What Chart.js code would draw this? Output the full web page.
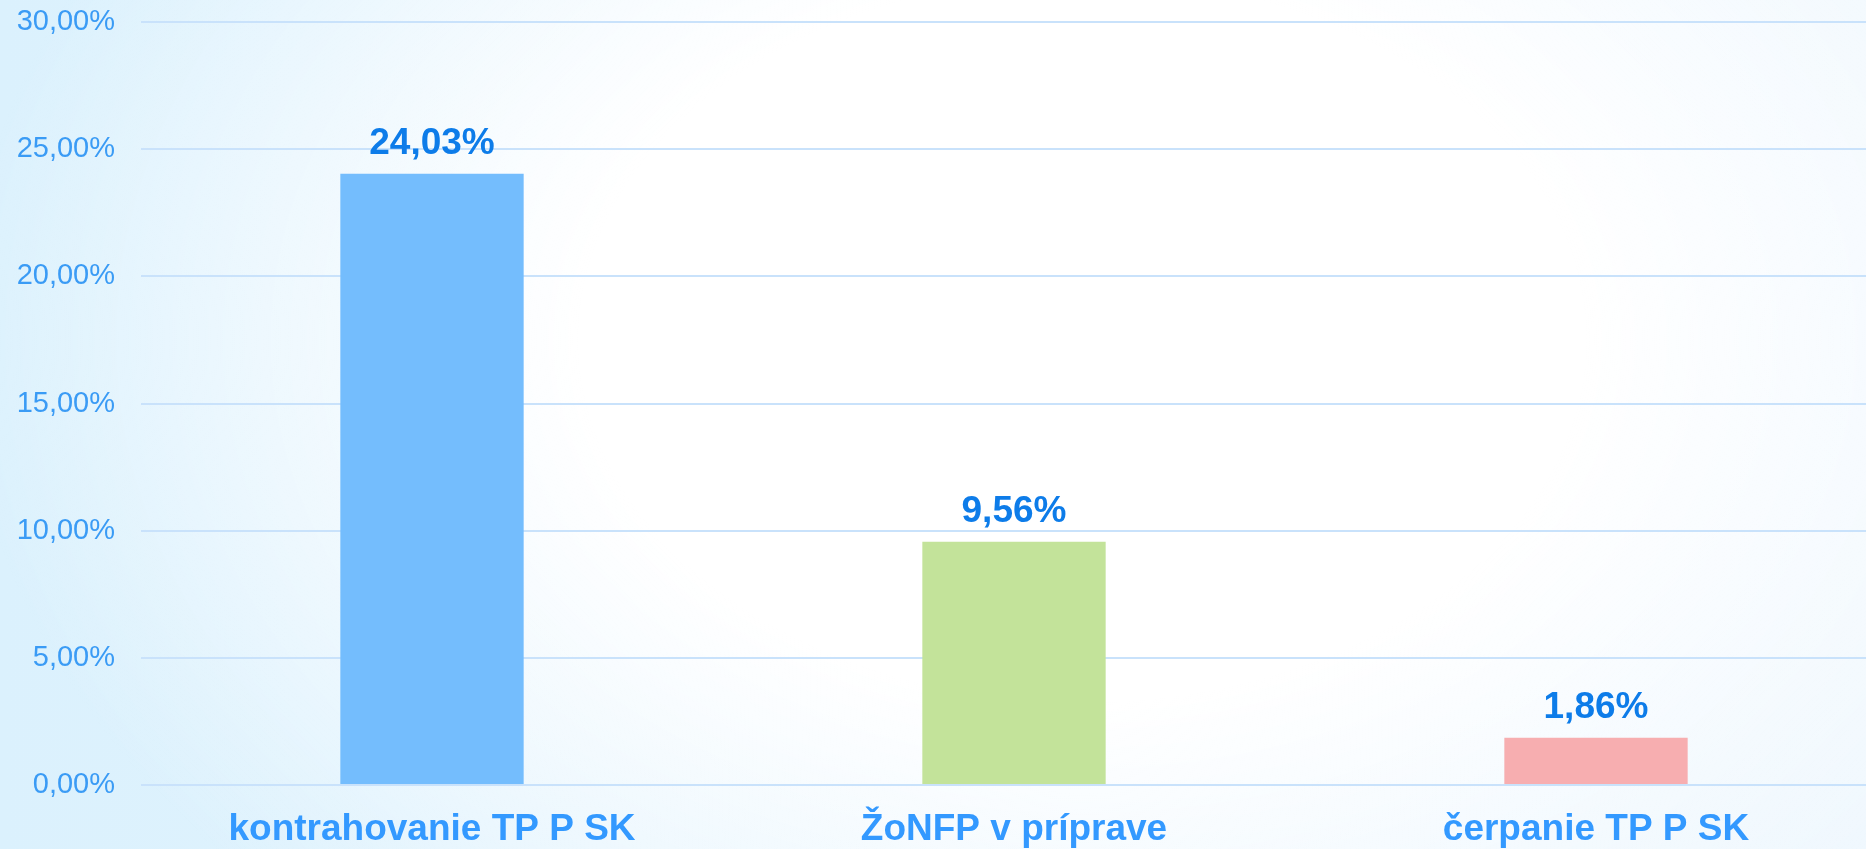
<!DOCTYPE html>
<html lang="sk">
<head>
<meta charset="utf-8">
<title>Graf</title>
<script src="https://cdn.jsdelivr.net/npm/chart.js@4/dist/chart.umd.min.js"></script>
<style>
    html, body {
        margin: 0;
        padding: 0;
        width: 1866px;
        height: 849px;
        overflow: hidden;
    }
    body {
        background:
            radial-gradient(ellipse 60% 95% at 58% 40%, #ffffff 45%, rgba(255, 255, 255, 0) 100%),
            linear-gradient(90deg, #dbf1fd 0%, #eef7fe 100%);
    }
    .chart-wrap {
        position: absolute;
        left: 0;
        top: 0;
        width: 1887px;
        height: 849px;
    }
</style>
</head>
<body>
<div class="chart-wrap">
    <canvas id="barChart" width="1887" height="849"></canvas>
</div>
<script>
// Chart data
const categories = ['kontrahovanie TP P SK', 'ŽoNFP v príprave', 'čerpanie TP P SK'];
const percentValues = [24.03, 9.56, 1.86];
const barColors = ['#74bdfd', '#c3e39a', '#f7aeb0'];
const yTicks = [0, 5, 10, 15, 20, 25, 30];

// Slovak number format, e.g. 24,03%
function formatPercent(value) {
    return value.toFixed(2).replace('.', ',') + '%';
}

// Value labels above the bars
const valueLabels = {
    id: 'valueLabels',
    afterDatasetsDraw(chart) {
        const ctx = chart.ctx;
        const meta = chart.getDatasetMeta(0);
        ctx.save();
        ctx.font = 'bold 37px "Liberation Sans", Arial, sans-serif';
        ctx.fillStyle = '#0d7ce9';
        ctx.textAlign = 'center';
        ctx.textBaseline = 'alphabetic';
        meta.data.forEach((bar, i) => {
            ctx.fillText(formatPercent(percentValues[i]), bar.x, bar.y - 20);
        });
        ctx.restore();
    }
};

const ctx = document.getElementById('barChart').getContext('2d');

new Chart(ctx, {
    type: 'bar',
    data: {
        labels: categories,
        datasets: [{
            data: percentValues,
            backgroundColor: barColors,
            borderWidth: 0,
            barPercentage: 1,
            categoryPercentage: 0.315
        }]
    },
    options: {
        responsive: false,
        animation: false,
        layout: {
            padding: { top: 22, right: 0, bottom: 0, left: 0 }
        },
        plugins: {
            legend: { display: false },
            tooltip: { enabled: false }
        },
        scales: {
            x: {
                grid: { display: false, drawTicks: false },
                border: { display: false },
                ticks: {
                    color: '#3399ff',
                    padding: 23,
                    font: { family: '"Liberation Sans", Arial, sans-serif', size: 37, weight: 'bold' }
                },
                afterFit(scale) {
                    scale.height = 64;
                    scale.paddingLeft = 0;
                    scale.paddingRight = 0;
                }
            },
            y: {
                min: 0,
                max: 30,
                afterBuildTicks(scale) {
                    scale.ticks = yTicks.map(v => ({ value: v }));
                },
                grid: {
                    color: '#c9e2fb',
                    lineWidth: 2,
                    drawTicks: false
                },
                border: { display: false },
                ticks: {
                    color: '#3a9bf5',
                    padding: 26,
                    font: { family: '"Liberation Sans", Arial, sans-serif', size: 29 },
                    callback: value => formatPercent(value)
                },
                afterFit(scale) {
                    scale.width = 141;
                    scale.paddingTop = 0;
                    scale.paddingBottom = 0;
                }
            }
        }
    },
    plugins: [valueLabels]
});
</script>
</body>
</html>
